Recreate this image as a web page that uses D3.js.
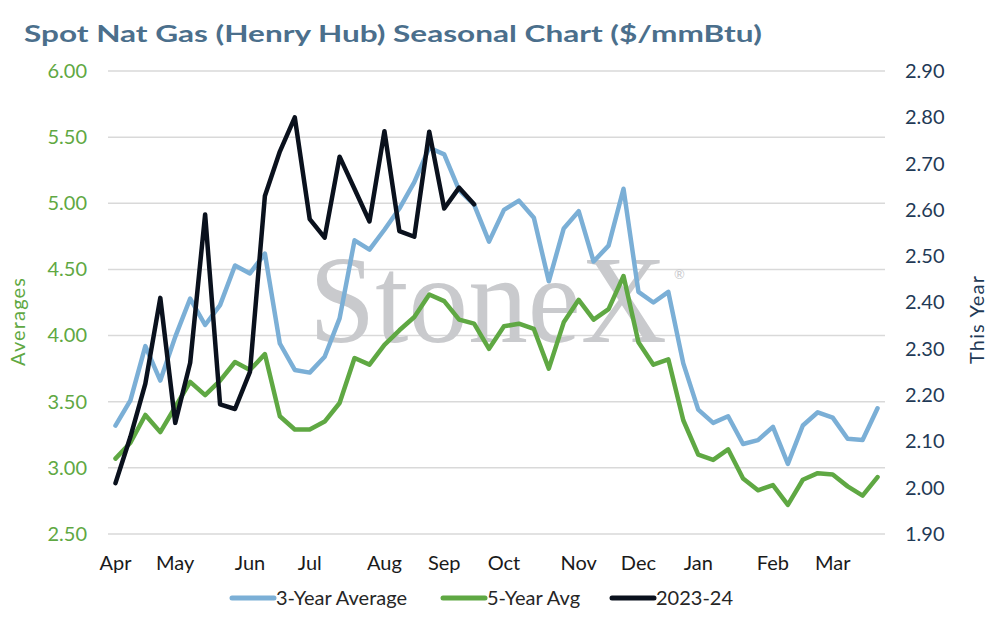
<!DOCTYPE html>
<html>
<head>
<meta charset="utf-8">
<script src="https://cdn.jsdelivr.net/npm/d3@7"></script>
<style>
  body { margin: 0; background: #fff; }
  text { font-family: Lato, "Open Sans", sans-serif; }
</style>
</head>
<body>
<div id="chart"></div>
<script>
// weekly points, April to March
var weeks = d3.range(52);

// month tick labels and the week they start on
var monthLabels = ["Apr", "May", "Jun", "Jul", "Aug", "Sep", "Oct", "Nov", "Dec", "Jan", "Feb", "Mar"];
var monthStarts = [0, 4, 9, 13, 18, 22, 26, 31, 35, 39, 44, 48];

var avg3 = [3.32, 3.51, 3.92, 3.66, 3.99, 4.28, 4.08, 4.23, 4.53, 4.47,
            4.62, 3.94, 3.74, 3.72, 3.84, 4.13, 4.72, 4.65, 4.80, 4.96,
            5.16, 5.42, 5.37, 5.10, 4.99, 4.71, 4.95, 5.02, 4.89, 4.41,
            4.81, 4.94, 4.56, 4.68, 5.11, 4.33, 4.25, 4.33, 3.79, 3.44,
            3.34, 3.39, 3.18, 3.21, 3.31, 3.03, 3.32, 3.42, 3.38, 3.22,
            3.21, 3.45];

var avg5 = [3.07, 3.19, 3.40, 3.27, 3.46, 3.65, 3.55, 3.66, 3.80, 3.74,
            3.86, 3.39, 3.29, 3.29, 3.35, 3.49, 3.83, 3.78, 3.93, 4.04,
            4.14, 4.31, 4.26, 4.12, 4.09, 3.90, 4.07, 4.09, 4.05, 3.75,
            4.10, 4.27, 4.12, 4.20, 4.45, 3.95, 3.78, 3.82, 3.36, 3.10,
            3.06, 3.14, 2.92, 2.83, 2.87, 2.72, 2.91, 2.96, 2.95, 2.86,
            2.79, 2.93];

// this year only runs to early October
var thisYear = [2.01, 2.11, 2.225, 2.41, 2.14, 2.27, 2.59, 2.18, 2.17, 2.25,
                2.63, 2.726, 2.80, 2.58, 2.54, 2.715, 2.645, 2.575, 2.77, 2.554,
                2.542, 2.769, 2.603, 2.648, 2.612];

var leftTicks = [2.5, 3.0, 3.5, 4.0, 4.5, 5.0, 5.5, 6.0];
var rightTicks = [1.9, 2.0, 2.1, 2.2, 2.3, 2.4, 2.5, 2.6, 2.7, 2.8, 2.9];

var seriesNames = ["3-Year Average", "5-Year Avg", "2023-24"];
var colors = ["#7bafd6", "#5fa843", "#0a111d"];

var W = 993, H = 617;
var plotLeft = 108, plotRight = 885, plotTop = 71, plotBottom = 534;
var fontSize = 20;

var svg = d3.select("#chart")
  .append("svg")
    .attr("width", W)
    .attr("height", H);

// title
svg.append("text")
  .attr("x", 24)
  .attr("y", 42)
  .attr("fill", "#4b6f8c")
  .attr("font-size", 23)
  .attr("font-weight", "bold")
  .attr("textLength", 738)
  .attr("lengthAdjust", "spacingAndGlyphs")
  .text("Spot Nat Gas (Henry Hub) Seasonal Chart ($/mmBtu)");

var x = d3.scaleBand()
  .domain(weeks)
  .range([plotLeft, plotRight]);

var yL = d3.scaleLinear()
  .domain([2.5, 6])
  .range([plotBottom, plotTop]);

var yR = d3.scaleLinear()
  .domain([1.9, 2.9])
  .range([plotBottom, plotTop]);

// gridlines
svg.append("g")
  .selectAll("line")
  .data(leftTicks)
  .enter()
  .append("line")
    .attr("x1", plotLeft)
    .attr("x2", plotRight)
    .attr("y1", function(d) { return yL(d); })
    .attr("y2", function(d) { return yL(d); })
    .attr("stroke", "#d9d9d9")
    .attr("stroke-width", 1.5);

// watermark, with the registered mark as part of the same text
var wm = svg.append("text")
  .attr("x", 309)
  .attr("y", 342)
  .attr("fill", "#c9cacd")
  .style("font-family", "'Liberation Serif', serif");
wm.append("tspan")
  .attr("font-size", 124)
  .attr("textLength", 358)
  .attr("lengthAdjust", "spacingAndGlyphs")
  .text("StoneX");
wm.append("tspan")
  .attr("dx", 7)
  .attr("dy", -63)
  .attr("font-size", 13)
  .style("font-family", "Lato, sans-serif")
  .text("®");

// left axis
var axL = svg.append("g")
  .attr("transform", "translate(" + plotLeft + ",0)")
  .call(d3.axisLeft(yL).tickValues(leftTicks).tickFormat(d3.format(".2f")).tickSize(0).tickPadding(21));
axL.select(".domain").remove();
axL.selectAll("text")
  .attr("fill", "#5fa843")
  .attr("font-size", fontSize)
  .style("font-family", "Lato, sans-serif");

// right axis
var axR = svg.append("g")
  .attr("transform", "translate(" + plotRight + ",0)")
  .call(d3.axisRight(yR).tickValues(rightTicks).tickFormat(d3.format(".2f")).tickSize(0).tickPadding(20));
axR.select(".domain").remove();
axR.selectAll("text")
  .attr("fill", "#1f3a56")
  .attr("font-size", fontSize)
  .style("font-family", "Lato, sans-serif");

// month axis
var axB = svg.append("g")
  .attr("transform", "translate(0," + plotBottom + ")")
  .call(d3.axisBottom(x)
    .tickValues(monthStarts)
    .tickFormat(function(d) { return monthLabels[monthStarts.indexOf(d)]; })
    .tickSize(0)
    .tickPadding(22));
axB.select(".domain").remove();
axB.selectAll("text")
  .attr("fill", "#1a1a1a")
  .attr("font-size", fontSize)
  .style("font-family", "Lato, sans-serif");

// axis titles
svg.append("text")
  .attr("transform", "translate(25,322) rotate(-90)")
  .attr("text-anchor", "middle")
  .attr("fill", "#5fa843")
  .attr("font-size", fontSize)
  .attr("textLength", 88)
  .text("Averages");

svg.append("text")
  .attr("transform", "translate(984,320) rotate(-90)")
  .attr("text-anchor", "middle")
  .attr("fill", "#1f3a56")
  .attr("font-size", fontSize)
  .attr("textLength", 88)
  .text("This Year");

// lines
var lineL = d3.line()
  .defined(function(d) { return d != null; })
  .x(function(d, i) { return x(i) + x.bandwidth() / 2; })
  .y(function(d) { return yL(d); });

var lineR = d3.line()
  .defined(function(d) { return d != null; })
  .x(function(d, i) { return x(i) + x.bandwidth() / 2; })
  .y(function(d) { return yR(d); });

svg.append("path")
  .datum(avg3)
  .attr("d", lineL)
  .attr("fill", "none")
  .attr("stroke", colors[0])
  .attr("stroke-width", 4.5)
  .attr("stroke-linejoin", "round")
  .attr("stroke-linecap", "round");

svg.append("path")
  .datum(avg5)
  .attr("d", lineL)
  .attr("fill", "none")
  .attr("stroke", colors[1])
  .attr("stroke-width", 4.5)
  .attr("stroke-linejoin", "round")
  .attr("stroke-linecap", "round");

svg.append("path")
  .datum(thisYear)
  .attr("d", lineR)
  .attr("fill", "none")
  .attr("stroke", colors[2])
  .attr("stroke-width", 4.5)
  .attr("stroke-linejoin", "round")
  .attr("stroke-linecap", "round");

// legend
var legendX = [232, 443, 612];
var leg = svg.append("g")
  .selectAll("g")
  .data(seriesNames)
  .enter()
  .append("g")
    .attr("transform", function(d, i) { return "translate(" + legendX[i] + ",598)"; });

leg.append("line")
  .attr("x1", 0)
  .attr("x2", 42)
  .attr("stroke", function(d, i) { return colors[i]; })
  .attr("stroke-width", 5)
  .attr("stroke-linecap", "round");

leg.append("text")
  .attr("x", 44)
  .attr("dy", "0.35em")
  .attr("fill", "#262626")
  .attr("font-size", fontSize)
  .text(function(d) { return d; });
</script>
</body>
</html>
